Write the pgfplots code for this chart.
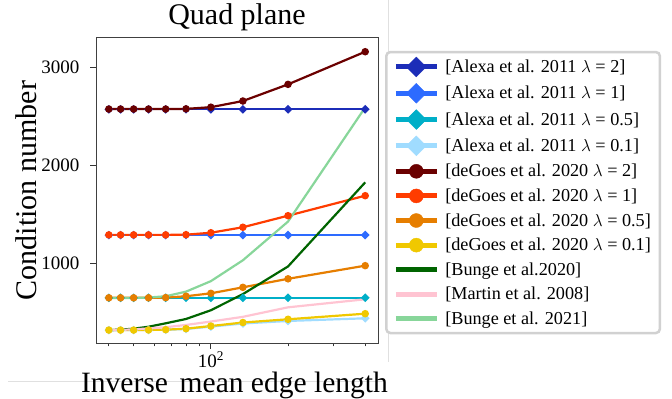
\documentclass[border=0pt]{standalone}
\usepackage{pgfplots}
\pgfplotsset{compat=1.18}
\usepackage{fontspec}
\setmainfont{Liberation Serif}
\definecolor{alexaA}{HTML}{1C2DB8}
\definecolor{alexaB}{HTML}{2D6BFF}
\definecolor{alexaC}{HTML}{00AFC8}
\definecolor{alexaD}{HTML}{A0DCFF}
\definecolor{goesA}{HTML}{6B0000}
\definecolor{goesB}{HTML}{FF3C00}
\definecolor{goesC}{HTML}{E67E00}
\definecolor{goesD}{HTML}{F0C800}
\definecolor{bungeA}{HTML}{006400}
\definecolor{martin}{HTML}{FFC4D2}
\definecolor{bungeB}{HTML}{88D69A}
\begin{document}
\begin{tikzpicture}
\path[use as bounding box] (0,0) rectangle (672bp,399bp);
\draw[black!12, line width=0.8bp] (388bp,399bp) -- (388bp,37bp);
\draw[black!12, line width=0.8bp] (8bp,17.5bp) -- (383bp,17.5bp);
\begin{axis}[
  at={(96bp,56bp)}, anchor=south west,
  scale only axis, width=282bp, height=305bp,
  xmode=log, xmin=35.65, xmax=448.7, ymin=191, ymax=3303,
  xtick={100}, xticklabels={10\textsuperscript{2}},
  minor xtick={40,50,60,70,80,90,200,300,400},
  ytick={1000,2000,3000},
  yticklabels={1000,2000,3000},
  tick align=outside, tick pos=left,
  major tick length=6bp, minor tick length=3.5bp,
  every tick/.style={black!80, line width=0.8bp},
  axis line style={black!75, line width=1bp},
  every tick label/.append style={font=\fontsize{19bp}{21bp}\selectfont},
  every y tick label/.append style={xshift=-7bp},
  every x tick label/.append style={inner sep=1bp, yshift=-1bp},
  title={Quad plane},
  title style={font=\fontsize{30bp}{34bp}\selectfont, at={(axis description cs:0.5,1)}, anchor=base, yshift=8bp},
  xlabel={Inverse\hspace{0.15em} mean edge length},
  xlabel style={font=\fontsize{29.5bp}{34bp}\selectfont, at={(axis description cs:0.491,-0.139)}, anchor=center},
  ylabel={Condition number},
  ylabel style={font=\fontsize{30bp}{34bp}\selectfont, at={(axis description cs:-0.248,0.5)}, anchor=center},
  legend style={at={(axis description cs:1.025,0.958)}, anchor=north west, draw=black!18, line width=2.5bp, rounded corners=4bp, fill=white,
    font=\fontsize{18.2bp}{20bp}\selectfont, inner xsep=7bp, inner ysep=5bp, row sep=6.5bp, column sep=4bp},
  legend cell align=left,
  legend image code/.code={
    \draw[#1, sharp corners, mark=none, line width=5bp] (0bp,0bp) -- (41bp,0bp);
    \draw[#1, sharp corners, line width=0.4bp, mark size=7bp] plot coordinates {(20.5bp,0bp)};
  },
  alexa/.style={line width=2.2bp, mark=square*, mark size=2bp, mark options={rotate=45, solid}},
  goes/.style={line width=2.2bp, mark=*, mark size=2.6bp},
]
\addplot[alexa, alexaA] coordinates {(40,2575)(44.444,2575)(50,2575)(57.143,2575)(66.667,2575)(80,2575)(100,2575)(133.333,2575)(200,2575)(400,2575)};
\addlegendentry{[Alexa et al. 2011 $\lambda$ = 2]}
\addplot[alexa, alexaB] coordinates {(40,1292)(44.444,1292)(50,1292)(57.143,1292)(66.667,1292)(80,1292)(100,1292)(133.333,1292)(200,1292)(400,1292)};
\addlegendentry{[Alexa et al. 2011 $\lambda$ = 1]}
\addplot[alexa, alexaC] coordinates {(40,652)(44.444,652)(50,652)(57.143,652)(66.667,652)(80,652)(100,652)(133.333,652)(200,652)(400,652)};
\addlegendentry{[Alexa et al. 2011 $\lambda$ = 0.5]}
\addplot[alexa, alexaD] coordinates {(40,322)(44.444,322)(50,323)(57.143,324)(66.667,326)(80,334)(100,358)(133.333,390)(200,416)(400,443)};
\addlegendentry{[Alexa et al. 2011 $\lambda$ = 0.1]}
\addplot[goes, goesA] coordinates {(40,2578)(44.444,2578)(50,2578)(57.143,2578)(66.667,2578)(80,2580)(100,2597)(133.333,2660)(200,2830)(400,3163)};
\addlegendentry{[deGoes et al. 2020 $\lambda$ = 2]}
\addplot[goes, goesB] coordinates {(40,1294)(44.444,1294)(50,1294)(57.143,1294)(66.667,1294)(80,1296)(100,1316)(133.333,1372)(200,1490)(400,1694)};
\addlegendentry{[deGoes et al. 2020 $\lambda$ = 1]}
\addplot[goes, goesC] coordinates {(40,652)(44.444,652)(50,652)(57.143,652)(66.667,654)(80,668)(100,698)(133.333,759)(200,846)(400,980)};
\addlegendentry{[deGoes et al. 2020 $\lambda$ = 0.5]}
\addplot[goes, goesD] coordinates {(40,323)(44.444,323)(50,323)(57.143,324)(66.667,327)(80,337)(100,364)(133.333,400)(200,433)(400,490)};
\addlegendentry{[deGoes et al. 2020 $\lambda$ = 0.1]}
\addplot[bungeA, line width=2.2bp] coordinates {(40,323)(44.444,327)(50,337)(57.143,357)(66.667,392)(80,436)(100,525)(133.333,690)(200,972)(400,1830)};
\addlegendentry{[Bunge et al.2020]}
\addplot[martin, line width=2.2bp] coordinates {(40,323)(44.444,325)(50,330)(57.143,340)(66.667,352)(80,375)(100,410)(133.333,458)(200,555)(400,637)};
\addlegendentry{[Martin et al. 2008]}
\addplot[bungeB, line width=2.2bp] coordinates {(40,650)(44.444,650)(50,650)(57.143,655)(66.667,668)(80,715)(100,822)(133.333,1035)(200,1430)(400,2595)};
\addlegendentry{[Bunge et al. 2021]}
\end{axis}
\end{tikzpicture}
\end{document}
